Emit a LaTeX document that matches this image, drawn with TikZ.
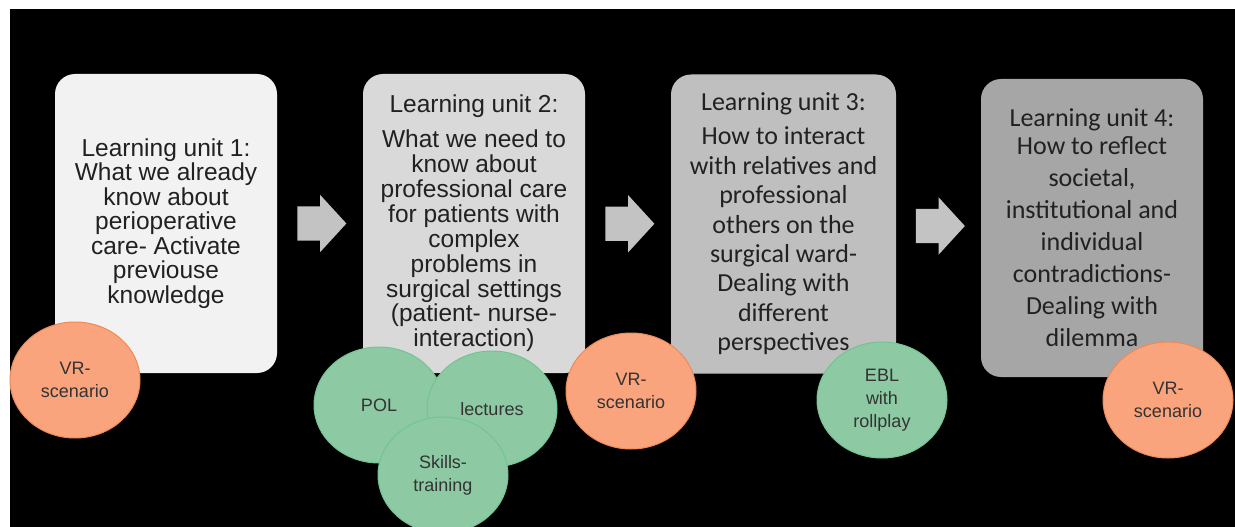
\documentclass[tikz,border=0pt]{standalone}
\usepackage{fontspec}
\setmainfont{Liberation Sans}
\newfontfamily\calibri{Carlito}
\usetikzlibrary{calc,shapes.geometric,shapes.arrows}

\definecolor{unitone}{HTML}{F2F2F2}
\definecolor{unittwo}{HTML}{D9D9D9}
\definecolor{unitthree}{HTML}{BFBFBF}
\definecolor{unitfour}{HTML}{A6A6A6}
\definecolor{arrowgray}{HTML}{C3C3C3}
\definecolor{vrfill}{HTML}{F9A47C}
\definecolor{vrline}{HTML}{EE8A55}
\definecolor{methfill}{HTML}{8DC9A3}
\definecolor{methline}{HTML}{72C493}

\tikzset{
	unit/.style={rounded corners=20pt, minimum width=222pt, minimum height=299pt, inner sep=0pt, align=center, text=black!87},
	flowarrow/.style={single arrow, fill=arrowgray, minimum height=49pt, minimum width=57pt, inner xsep=0pt, inner ysep=17pt, single arrow head extend=11.5pt, single arrow tip angle=95, xshift=-6pt},
	bubble/.style={ellipse, line width=1pt, minimum width=130pt, minimum height=116pt, inner sep=2pt, align=center, text=black!80, font=\fontsize{18}{23}\selectfont},
	vrbubble/.style={bubble, fill=vrfill, draw=vrline},
	methbubble/.style={bubble, fill=methfill, draw=methline}
}

\begin{document}
\begin{tikzpicture}[x=1pt, y=-1pt]
			%%%%% START %%%%%
			\useasboundingbox (0, 0) rectangle (1235, 527);
			\fill[white] (0, 0) rectangle (1235, 527);
			\fill[black] (10, 9) rectangle (1235, 527);
			
			\node[unit, fill=unitone, font=\fontsize{24.5}{24.5}\selectfont] (u1) at (166, 223.5) {Learning unit 1:\\What we already\\know about\\perioperative\\care- Activate\\previouse\\knowledge};
			\node[unit, fill=unittwo, font=\fontsize{24.5}{24.9}\selectfont] (u2) at (474, 223.5) {Learning unit 2:\\[10pt]What we need to\\know about\\professional care\\for patients with\\complex\\problems in\\surgical settings\\(patient- nurse-\\interaction)};
			\node[unit, fill=unitthree, minimum width=225pt, font=\calibri\fontsize{26}{29.4}\selectfont] (u3) at (783.5, 224) {Learning unit 3:\\[4.6pt]How to interact\\with relatives and\\professional\\others on the\\surgical ward-\\Dealing with\\different\\perspectives};
			\node[unit, fill=unitfour, minimum height=298pt, font=\calibri\fontsize{26}{32}\selectfont] (u4) at (1092, 228) {Learning unit 4:\\[-4pt]How to reflect\\societal,\\institutional and\\individual\\contradictions-\\Dealing with\\dilemma};
			
			\node[flowarrow] (a1) at ($(u1.east)!0.5!(u2.west)$) {};
			\node[flowarrow] (a2) at ($(u2.east)!0.5!(u3.west)$) {};
			\node[flowarrow] (a3) at ($(u3.east)!0.5!(u4.west)$) {};
			
			\node[vrbubble] (vr1) at (75, 380) {VR-\\scenario};
			\node[methbubble] (pol) at (379, 405) {POL};
			\node[methbubble] (lec) at (492, 409) {lectures};
			\node[methbubble] (skl) at (443, 475) {Skills-\\training};
			\node[vrbubble] (vr2) at (631, 391) {VR-\\scenario};
			\node[methbubble] (ebl) at (882, 400) {EBL\\with\\rollplay};
			\node[vrbubble] (vr3) at (1168, 400) {VR-\\scenario};
			
			%%%%% END %%%%%
\end{tikzpicture}
\end{document}
